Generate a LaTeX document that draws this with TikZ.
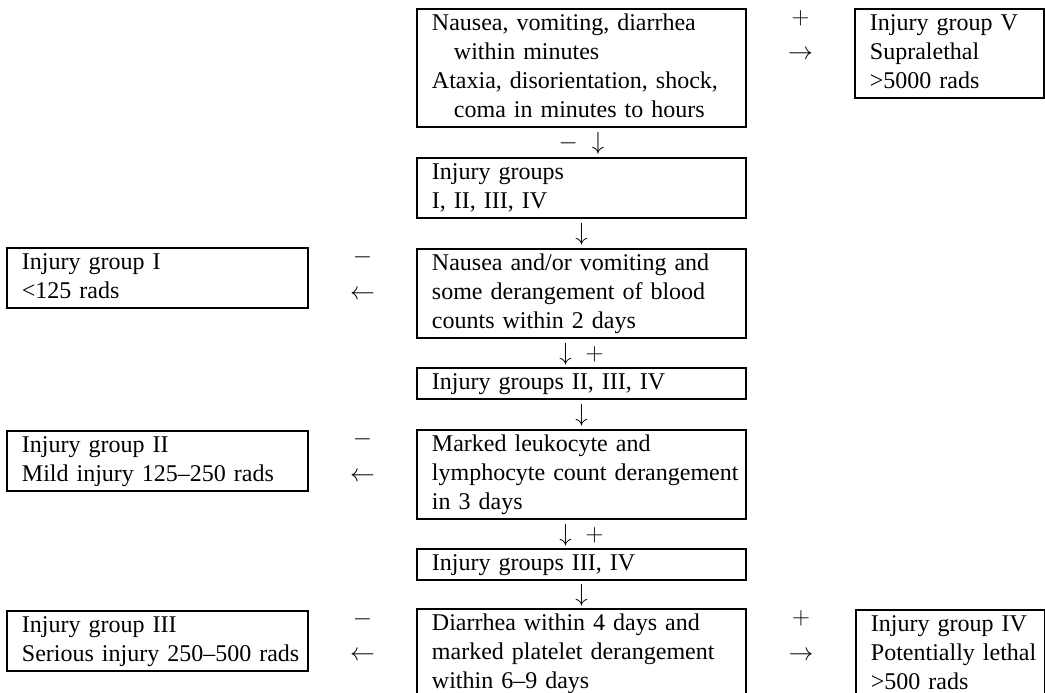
\documentclass[tikz,border=0pt]{standalone}
\usepackage{fontspec}
\setmainfont{Liberation Serif}
\usetikzlibrary{calc}
\newcommand\bl[1]{\mbox{\strut#1}}
\begin{document}
\begin{tikzpicture}[x=1bp,y=-1bp,
  every node/.style={font=\fontsize{24bp}{29bp}\selectfont},
  box/.style={draw, line width=1.9bp, inner xsep=15bp, inner ysep=1bp, align=left, anchor=north west},
  midbox/.style={box, text width=299bp},
  leftbox/.style={box, text width=271bp},
  rightbox/.style={box, text width=159bp},
  sign/.style={inner sep=0pt}]
\useasboundingbox (0,0) rectangle (1045,693);

% central column
\node[midbox] (a) at (416,8) {\bl{Nausea, vomiting, diarrhea}\\\bl{\hspace*{22bp}within minutes}\\\bl{Ataxia, disorientation, shock,}\\\bl{\hspace*{22bp}coma in minutes to hours}};
\node[midbox] (b) at (416,157) {\bl{Injury groups}\\\bl{I, II, III, IV}};
\node[midbox] (c) at (416,248) {\bl{Nausea and/or vomiting and}\\\bl{some derangement of blood}\\\bl{counts within 2 days}};
\node[midbox] (d) at (416,367) {\bl{Injury groups II, III, IV}};
\node[midbox] (e) at (416,429) {\bl{Marked leukocyte and}\\\bl{lymphocyte count derangement}\\\bl{in 3 days}};
\node[midbox] (f) at (416,548) {\bl{Injury groups III, IV}};
\node[midbox] (g) at (416,608) {\bl{Diarrhea within 4 days and}\\\bl{marked platelet derangement}\\\bl{within 6–9 days}};

% side boxes
\node[rightbox] (v) at (854,8) {\bl{Injury group V}\\\bl{Supralethal}\\\bl{>5000 rads}};
\node[leftbox] (i1) at (6,247) {\bl{Injury group I}\\\bl{<125 rads}};
\node[leftbox] (i2) at (6,430) {\bl{Injury group II}\\\bl{Mild injury 125–250 rads}};
\node[leftbox] (i3) at (6,610) {\bl{Injury group III}\\\bl{Serious injury 250–500 rads}};
\node[rightbox] (iv) at (855,609) {\bl{Injury group IV}\\\bl{Potentially lethal}\\\bl{>500 rads}};

% vertical markers
\node[sign] (m1) at ($(a.south)!0.5!(b.north)+(0,1)$) {$-\;\downarrow$};
\node[sign] (m2) at ($(b.south)!0.5!(c.north)+(0,1)$) {$\downarrow$};
\node[sign] (m3) at ($(c.south)!0.5!(d.north)+(0,1)$) {$\downarrow\;+$};
\node[sign] (m4) at ($(d.south)!0.5!(e.north)+(0,1)$) {$\downarrow$};
\node[sign] (m5) at ($(e.south)!0.5!(f.north)+(0,1)$) {$\downarrow\;+$};
\node[sign] (m6) at ($(f.south)!0.5!(g.north)+(0,1)$) {$\downarrow$};

% horizontal markers
\node[sign] (h1s) at ($(a.north east)!0.5!(v.north west)+(0,10)$) {$+$};
\node[sign] (h1a) at ($(a.north east)!0.5!(v.north west)+(0,47)$) {$\rightarrow$};
\node[sign] (h2s) at ($(i1.north east)!0.5!(c.north west)+(0,10)$) {$-$};
\node[sign] (h2a) at ($(i1.north east)!0.5!(c.north west)+(0,47)$) {$\leftarrow$};
\node[sign] (h3s) at ($(i2.north east)!0.5!(e.north west)+(0,10)$) {$-$};
\node[sign] (h3a) at ($(i2.north east)!0.5!(e.north west)+(0,47)$) {$\leftarrow$};
\node[sign] (h4s) at ($(i3.north east)!0.5!(g.north west)+(0,10)$) {$-$};
\node[sign] (h4a) at ($(i3.north east)!0.5!(g.north west)+(0,47)$) {$\leftarrow$};
\node[sign] (h5s) at ($(g.north east)!0.5!(iv.north west)+(0,10)$) {$+$};
\node[sign] (h5a) at ($(g.north east)!0.5!(iv.north west)+(0,47)$) {$\rightarrow$};
\end{tikzpicture}
\end{document}
